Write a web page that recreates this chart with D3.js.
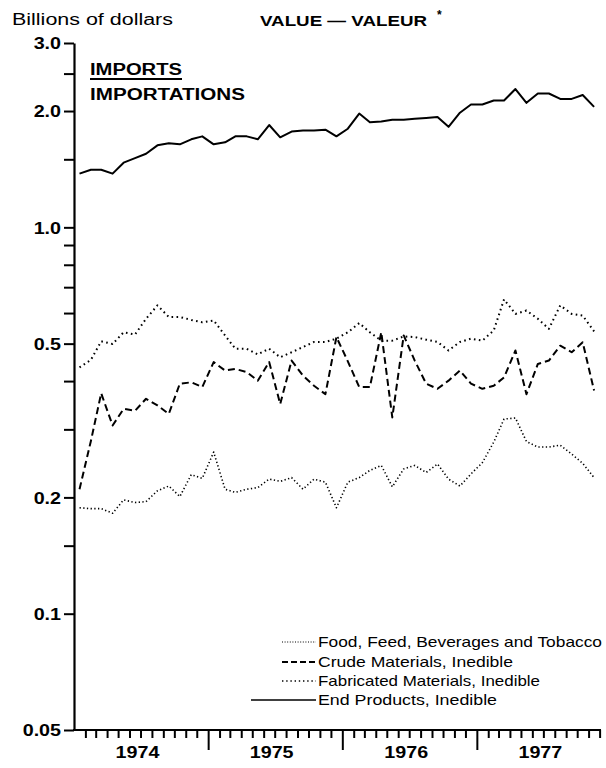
<!DOCTYPE html>
<html><head><meta charset="utf-8">
<script src="https://cdn.jsdelivr.net/npm/d3@7"></script>
<style>
body{margin:0;background:#fff}
svg{display:block}
text{font-family:"Liberation Sans",Arial,Helvetica,sans-serif;fill:#000}
</style>
</head><body><svg id="c" width="606" height="768"></svg>
<script>
// ---------- data ----------
const startMonth = new Date(1974, 0, 1);
const monthCount = 47; // Jan 1974 - Nov 1977
const yearLabels = ["1974", "1975", "1976", "1977"];
const yTickValues = [3, 2.5, 2, 1.5, 1, 0.9, 0.8, 0.7, 0.6, 0.5, 0.4, 0.3, 0.2, 0.15, 0.1, 0.05];
const yTickLabelValues = [3, 2, 1, 0.5, 0.2, 0.1, 0.05];
const yTickLabelTexts = ["3.0", "2.0", "1.0", "0.5", "0.2", "0.1", "0.05"];
const seriesNames = ["Food, Feed, Beverages and Tobacco", "Crude Materials, Inedible", "Fabricated Materials, Inedible", "End Products, Inedible"];

const food = [0.188,0.187,0.187,0.182,0.197,0.194,0.195,0.208,0.214,0.201,
  0.229,0.224,0.262,0.210,0.206,0.210,0.212,0.223,0.220,0.225,
  0.210,0.223,0.219,0.188,0.219,0.225,0.235,0.242,0.213,0.237,
  0.242,0.232,0.244,0.223,0.214,0.230,0.246,0.278,0.319,0.321,
  0.279,0.270,0.270,0.273,0.259,0.245,0.225];
const crude = [0.21,0.28,0.372,0.307,0.339,0.335,0.36,0.346,0.329,0.394,
  0.397,0.386,0.448,0.426,0.43,0.422,0.401,0.448,0.349,0.452,
  0.413,0.389,0.37,0.52,0.45,0.386,0.386,0.535,0.322,0.525,
  0.452,0.394,0.382,0.401,0.426,0.394,0.382,0.389,0.409,0.48,
  0.37,0.443,0.452,0.494,0.475,0.504,0.378];
const fabricated = [0.434,0.454,0.507,0.499,0.535,0.528,0.58,0.628,0.586,0.586,
  0.576,0.568,0.574,0.525,0.485,0.485,0.469,0.485,0.461,0.475,
  0.49,0.505,0.505,0.515,0.535,0.565,0.535,0.509,0.509,0.522,
  0.52,0.512,0.505,0.48,0.505,0.515,0.509,0.541,0.651,0.597,
  0.609,0.58,0.546,0.628,0.597,0.591,0.538];
const endProducts = [1.377,1.41,1.41,1.377,1.47,1.51,1.55,1.63,1.65,1.64,
  1.69,1.72,1.64,1.66,1.72,1.72,1.69,1.84,1.71,1.77,
  1.78,1.78,1.79,1.72,1.80,1.97,1.87,1.88,1.9,1.9,
  1.91,1.92,1.93,1.82,1.98,2.08,2.08,2.13,2.13,2.28,
  2.1,2.22,2.22,2.15,2.15,2.2,2.05];

// ---------- setup ----------
const STRETCH = 1.23;
const svg = d3.select("#c");
const x = d3.scaleTime().domain([new Date(1974,0,1), new Date(1978,0,1)]).range([74, 611]);
const y = d3.scaleLog().domain([0.05, 3]).range([730, 43]);
const months = d3.timeMonth.range(startMonth, d3.timeMonth.offset(startMonth, monthCount));
const xm = d => x(new Date(d.getFullYear(), d.getMonth(), 16));

function stretch(sel, f) {
  sel.each(function(){
    const w = this.getComputedTextLength();
    d3.select(this).attr("textLength", w * (f || STRETCH)).attr("lengthAdjust", "spacingAndGlyphs");
  });
}

// ---------- y axis ----------
const yAxis = d3.axisLeft(y).tickValues(yTickValues).tickSize(10).tickSizeOuter(0).tickPadding(3)
  .tickFormat(d => { const k = yTickLabelValues.indexOf(d); return k >= 0 ? yTickLabelTexts[k] : ""; });
const gy = svg.append("g").attr("transform", "translate(74,0)").call(yAxis);
gy.select(".domain").attr("stroke", "#000").attr("stroke-width", 2.2);
gy.selectAll(".tick line").attr("stroke", "#000").attr("stroke-width", 2);
gy.selectAll(".tick text").attr("font-size", 16).attr("font-weight", "bold").attr("fill", "#000")
  .attr("dy", "0.36em").call(stretch);

// ---------- x axis ----------
const tickMonths = d3.timeMonth.range(new Date(1974,1,1), new Date(1978,0,1));
const xAxis = d3.axisBottom(x).tickValues(tickMonths).tickSize(8).tickSizeOuter(0).tickFormat("");
const gx = svg.append("g").attr("transform", "translate(0,730)").call(xAxis);
gx.select(".domain").remove();
gx.selectAll(".tick line").attr("stroke", "#000").attr("stroke-width", 2)
  .attr("y2", d => d.getMonth() === 0 ? 20 : 8);
svg.append("line").attr("x1", 73).attr("x2", 601).attr("y1", 730).attr("y2", 730)
  .attr("stroke", "#000").attr("stroke-width", 2.2);
svg.append("g").selectAll("text").data(yearLabels).join("text")
  .attr("x", d => x(new Date(+d, 6, 1)) - 3).attr("y", 758)
  .attr("text-anchor", "middle").attr("font-size", 16).attr("font-weight", "bold").text(d => d)
  .call(stretch);

// ---------- lines ----------
const line = d3.line().x((d, i) => xm(months[i])).y(d => y(d));
const styles = [
  {data: food, dash: "1.3,2.4", w: 1.6},
  {data: crude, dash: "7,4", w: 2},
  {data: fabricated, dash: "1.6,3.4", w: 2},
  {data: endProducts, dash: null, w: 2}
];
svg.append("g").selectAll("path").data(styles).join("path")
  .attr("d", s => line(s.data)).attr("fill", "none").attr("stroke", "#000")
  .attr("stroke-width", s => s.w).attr("stroke-dasharray", s => s.dash)
  .attr("stroke-linejoin", "round");

// ---------- titles ----------
svg.append("text").attr("x", 12).attr("y", 25).attr("font-size", 16).text("Billions of dollars")
  .attr("textLength", 161).attr("lengthAdjust", "spacingAndGlyphs");
svg.append("text").attr("x", 260).attr("y", 26).attr("font-size", 15).attr("font-weight", "bold")
  .text("VALUE \u2014 VALEUR").attr("textLength", 167).attr("lengthAdjust", "spacingAndGlyphs");
svg.append("text").attr("x", 437).attr("y", 19).attr("font-size", 12).attr("font-weight", "bold").text("*");
svg.append("text").attr("x", 90).attr("y", 75).attr("font-size", 16).attr("font-weight", "bold")
  .text("IMPORTS").attr("textLength", 92).attr("lengthAdjust", "spacingAndGlyphs");
svg.append("line").attr("x1", 90).attr("x2", 182).attr("y1", 79).attr("y2", 79).attr("stroke", "#000").attr("stroke-width", 2);
svg.append("text").attr("x", 90).attr("y", 100).attr("font-size", 16).attr("font-weight", "bold")
  .text("IMPORTATIONS").attr("textLength", 155).attr("lengthAdjust", "spacingAndGlyphs");

// ---------- legend ----------
const legendY = [642, 662, 681, 700];
const legendW = [284, 195, 222, 179];
const legendSample = [
  {x1: 282, dash: "1,1.6", w: 1},
  {x1: 282, dash: "6,3", w: 2},
  {x1: 282, dash: "1.4,2.8", w: 1.6},
  {x1: 251, dash: null, w: 1.6}
];
const lg = svg.append("g");
seriesNames.forEach((name, i) => {
  lg.append("line").attr("x1", legendSample[i].x1).attr("x2", 316).attr("y1", legendY[i]).attr("y2", legendY[i])
    .attr("stroke", "#000").attr("stroke-width", legendSample[i].w).attr("stroke-dasharray", legendSample[i].dash);
  lg.append("text").attr("x", 318).attr("y", legendY[i] + 5).attr("font-size", 14.5).text(name)
    .attr("textLength", legendW[i]).attr("lengthAdjust", "spacingAndGlyphs");
});
</script>
</body></html>
